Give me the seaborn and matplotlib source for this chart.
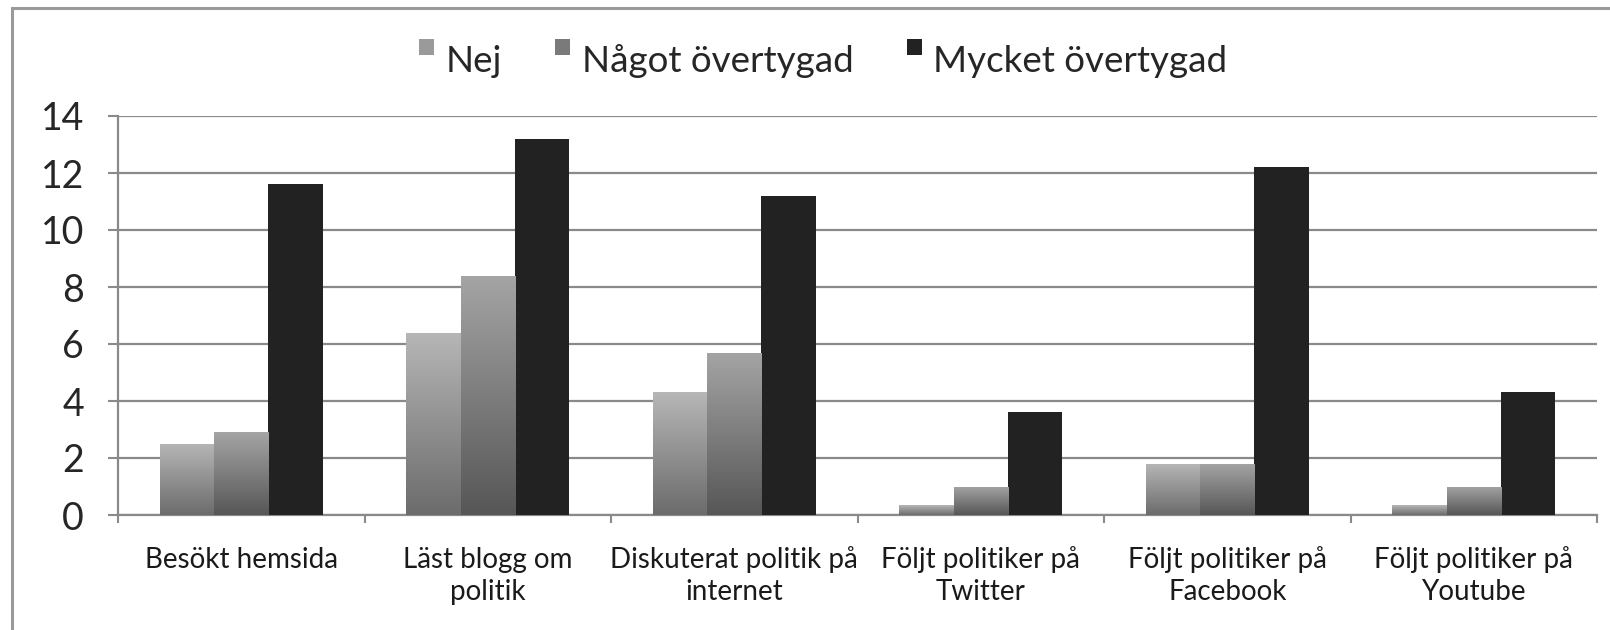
import numpy as np
import pandas as pd
import matplotlib
matplotlib.use("Agg")
import matplotlib.pyplot as plt
import seaborn as sns
from matplotlib.colors import LinearSegmentedColormap
from matplotlib.patches import Rectangle, Patch
from matplotlib.legend_handler import HandlerPatch

categories = ["Besökt hemsida", "Läst blogg om\npolitik", "Diskuterat politik på\ninternet",
              "Följt politiker på\nTwitter", "Följt politiker på\nFacebook", "Följt politiker på\nYoutube"]
series = ["Nej", "Något övertygad", "Mycket övertygad"]
nej = [2.5, 6.4, 4.3, 0.35, 1.8, 0.35]
nagot = [2.9, 8.4, 5.7, 1.0, 1.8, 1.0]
mycket = [11.6, 13.2, 11.2, 3.6, 12.2, 4.3]
yticks = [0, 2, 4, 6, 8, 10, 12, 14]

rows = []
for s, vals in zip(series, [nej, nagot, mycket]):
    for c, v in zip(categories, vals):
        rows.append({"cat": c, "series": s, "val": v})
df = pd.DataFrame(rows)

sns.set_theme(style="white")
plt.rcParams['font.family'] = ['Lato', 'DejaVu Sans']

grad_top = ["#b6b6b6", "#a4a4a4", "#222222"]
grad_bot = ["#6c6c6c", "#575757", "#222222"]
solid = ["#9a9a9a", "#7a7a7a", "#222222"]

fig = plt.figure(figsize=(16.1, 6.3), dpi=100)
ax = fig.add_axes([118/1610, 1-515/630, (1597-118)/1610, (515-116)/630])

sns.barplot(data=df, x="cat", y="val", hue="series", order=categories, hue_order=series,
            palette=solid, width=0.66, gap=0, ax=ax, legend=False, saturation=1,
            edgecolor="none", linewidth=0, zorder=3)

# gradient fills clipped to bars
for i, cont in enumerate(ax.containers):
    cmap = LinearSegmentedColormap.from_list("g%d" % i, [grad_bot[i], grad_top[i]])
    for bar in cont:
        x0 = bar.get_x(); w = bar.get_width(); h = bar.get_height()
        if i < 2:
            g = np.linspace(1, 0, 64).reshape(-1, 1)
            im = ax.imshow(g, cmap=cmap, vmin=0, vmax=1, extent=[x0, x0 + w, 0, h],
                           aspect="auto", zorder=3.5, interpolation="bilinear")
            im.set_clip_path(bar)

ax.set_xlim(-0.5, len(categories) - 0.5)
ax.set_ylim(0, 14)
ax.set_yticks(yticks)
ax.set_yticklabels([str(t) for t in yticks], fontsize=27)
ax.yaxis.grid(True, color="#8a8a8a", linewidth=1.6, zorder=0)
ax.set_axisbelow(True)

# ticks at category boundaries, labels centered under each category (each line centered)
ax.set_xticks(np.arange(-0.5, len(categories), 1.0))
ax.set_xticklabels([])
for i, c in enumerate(categories):
    for j, line in enumerate(c.split("\n")):
        ax.annotate(line, xy=(i, 0), xycoords=("data", "axes fraction"),
                    xytext=(0, -38 - 23.5 * j), textcoords="offset points",
                    ha="center", va="baseline", fontsize=20, color="#1a1a1a")
ax.tick_params(axis="x", which="major", length=6, width=1.5, color="#8a8a8a", direction="out", bottom=True)
ax.tick_params(axis="y", length=7.5, width=1.5, color="#8a8a8a", direction="out", left=True, pad=17)
ax.set_xlabel("")
ax.set_ylabel("")
for sp in ["top", "right"]:
    ax.spines[sp].set_visible(False)
for sp in ["left", "bottom"]:
    ax.spines[sp].set_color("#8a8a8a")
    ax.spines[sp].set_linewidth(1.6)

# legend
def sq(legend, orig_handle, xdescent, ydescent, width, height, fontsize):
    s = width
    return Rectangle((-xdescent, -ydescent + height - s * 0.55), s, s)

handles = [Patch(facecolor=solid[i], edgecolor="none", label=series[i]) for i in range(3)]
fig.legend(handles=handles, loc="center", bbox_to_anchor=(823/1610, 1-61/630), ncol=3,
           frameon=False, fontsize=26.5, handlelength=0.42, handleheight=0.7,
           handletextpad=0.3, columnspacing=1.45,
           handler_map={Patch: HandlerPatch(patch_func=sq)})

# outer border
fig.add_artist(Rectangle((12/1610, -0.2), 2.0, 1.2 - 8/630, transform=fig.transFigure,
                         fill=False, edgecolor="#9a9a9a", linewidth=2.2))

fig.savefig("out.png", dpi=100, facecolor="white")
